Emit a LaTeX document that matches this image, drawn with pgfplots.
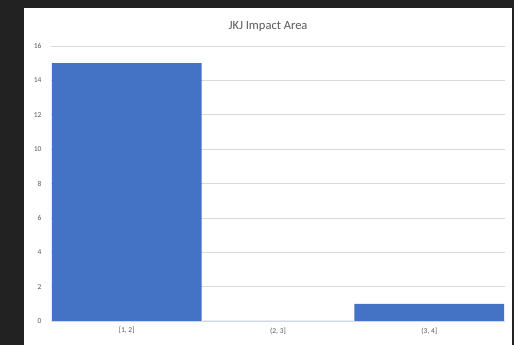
\documentclass[border=0pt]{standalone}
\usepackage{pgfplots}
\pgfplotsset{compat=1.18}
\usepackage{fontspec}
\setmainfont{Carlito}
\definecolor{bg}{HTML}{222222}
\definecolor{barblue}{HTML}{4472C4}
\definecolor{txtgray}{HTML}{595959}
\definecolor{gridgray}{HTML}{D9D9D9}
\begin{document}
\begin{tikzpicture}[x=1pt,y=1pt]
\fill[bg] (0,0) rectangle (514,345);
\fill[white] (24,0) rectangle (512,337);
\node[text=txtgray, font=\fontsize{12.5}{14}\selectfont] at (268,318) {JKJ Impact Area};
\begin{axis}[
  at={(51pt,24pt)}, anchor=south west,
  scale only axis, width=454pt, height=275pt,
  xmin=-0.5, xmax=2.5, ymin=0, ymax=16,
  ytick={0,2,...,16},
  xtick={0,1,2},
  xticklabels={{[1, 2]},{(2, 3]},{(3, 4]}},
  axis line style={draw=none},
  ymajorgrids, grid style={gridgray, line width=0.6pt},
  major tick length=0pt,
  tick label style={text=txtgray, font=\fontsize{7.5}{8}\selectfont},
  /pgf/number format/assume math mode=true,
  yticklabel style={xshift=-6pt},
  xticklabel style={yshift=-3pt},
  clip=false,
]
\addplot[ybar, bar width=0.99, fill=barblue, draw=none, bar shift=0pt] coordinates {(0,15) (1,0) (2,1)};
\draw[gridgray, line width=0.6pt] (axis cs:-0.5,0) -- (axis cs:2.5,0);
\end{axis}
\path (0,0) rectangle (514,345);
\end{tikzpicture}
\end{document}
